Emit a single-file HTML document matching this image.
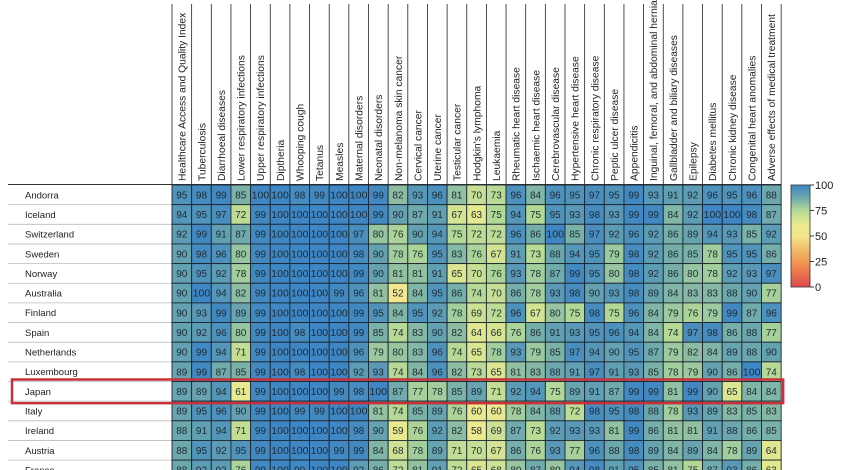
<!DOCTYPE html>
<html><head><meta charset="utf-8"><style>
html,body{margin:0;padding:0;background:#fff;width:844px;height:470px;overflow:hidden}
svg{display:block}
text{font-family:"Liberation Sans",sans-serif}
</style></head><body>
<svg id="s" width="844" height="470" xmlns="http://www.w3.org/2000/svg"></svg>
<script>
const cols=["Healthcare Access and Quality Index","Tuberculosis","Diarrhoeal diseases","Lower respiratory infections","Upper respiratory infections","Diptheria","Whooping cough","Tetanus","Measles","Maternal disorders","Neonatal disorders","Non-melanoma skin cancer","Cervical cancer","Uterine cancer","Testicular cancer","Hodgkin's lymphoma","Leukaemia","Rheumatic heart disease","Ischaemic heart disease","Cerebrovascular disease","Hypertensive heart disease","Chronic respiratory disease","Peptic ulcer disease","Appendicitis","Inguinal, femoral, and abdominal hernia","Gallbladder and biliary diseases","Epilepsy","Diabetes mellitus","Chronic kidney disease","Congenital heart anomalies","Adverse effects of medical treatment"];
const rows=[
["Andorra","95 98 99 85 100 100 98 99 100 100 99 82 93 96 81 70 73 96 84 96 95 97 95 99 93 91 92 96 95 96 88"],
["Iceland","94 95 97 72 99 100 100 100 100 100 99 90 87 91 67 63 75 94 75 95 93 98 93 99 99 84 92 100 100 98 87"],
["Switzerland","92 99 91 87 99 100 100 100 100 97 80 76 90 94 75 72 72 96 86 100 85 97 92 96 92 86 89 94 93 85 92"],
["Sweden","90 98 96 80 99 100 100 100 100 98 90 78 76 95 83 76 67 91 73 88 94 95 79 98 92 86 85 78 95 95 86"],
["Norway","90 95 92 78 99 100 100 100 100 99 90 81 81 91 65 70 76 93 78 87 99 95 80 98 92 86 80 78 92 93 97"],
["Australia","90 100 94 82 99 100 100 100 99 96 81 52 84 95 86 74 70 86 78 93 98 90 93 98 89 84 83 83 88 90 77"],
["Finland","90 93 99 89 99 100 100 100 100 99 95 84 95 92 78 69 72 96 67 80 75 98 75 96 84 79 76 79 99 87 96"],
["Spain","90 92 96 80 99 100 98 100 100 99 85 74 83 90 82 64 66 76 86 91 93 95 96 94 84 74 97 98 86 88 77"],
["Netherlands","90 99 94 71 99 100 100 100 100 96 79 80 83 96 74 65 78 93 79 85 97 94 90 95 87 79 82 84 89 88 90"],
["Luxembourg","89 99 87 85 99 100 98 100 100 92 93 74 84 96 82 73 65 81 83 88 91 97 91 93 85 78 79 90 86 100 74"],
["Japan","89 89 94 61 99 100 100 100 99 98 100 87 77 78 85 89 71 92 94 75 89 91 87 99 99 81 99 90 65 84 84"],
["Italy","89 95 96 90 99 100 99 99 100 100 81 74 85 89 76 60 60 78 84 88 72 98 95 98 88 78 93 89 83 85 83"],
["Ireland","88 91 94 71 99 100 100 100 100 98 90 59 76 92 82 58 69 87 73 92 93 93 81 99 86 81 81 91 88 86 85"],
["Austria","88 95 92 95 99 100 100 100 99 99 84 68 78 89 71 70 67 86 76 93 77 96 88 98 89 84 89 84 78 89 64"],
["France","88 92 92 76 99 100 99 100 100 92 86 72 81 91 72 65 68 80 87 80 94 98 91 95 85 81 75 87 93 86 63"]];
const stops=[[0,[224,72,76]],[25,[242,152,80]],[50,[244,230,140]],[62,[232,234,144]],[75,[178,216,150]],[87,[112,170,172]],[100,[62,134,196]]];
function col(v){for(let i=1;i<stops.length;i++){if(v<=stops[i][0]){const a=stops[i-1],b=stops[i],t=(v-a[0])/(b[0]-a[0]);return "rgb("+a[1].map((c,k)=>Math.round(c+(b[1][k]-c)*t)).join(",")+")";}}return "rgb(62,134,196)";}
const X0=172,W=19.65,Y0=185,H=19.65;let o="";
const X1=X0+W*31;
for(let j=0;j<=31;j++){o+=`<line x1="${X0+j*W}" y1="4" x2="${X0+j*W}" y2="185" stroke="#222" stroke-width="0.8"/>`;}
cols.forEach((c,j)=>{const x=X0+j*W+W/2+3.8;o+=`<text transform="translate(${x},181) rotate(-90)" font-size="10.3" fill="#222">${c.replace("'","&#39;")}</text>`;});
o+=`<line x1="8" y1="184.5" x2="${X1}" y2="184.5" stroke="#333" stroke-width="1"/>`;
rows.forEach((r,i)=>{const y=Y0+i*H;const vals=r[1].split(" ").map(Number);
o+=`<text x="25" y="${y+H/2+3.5}" font-size="9.5" fill="#222">${r[0]}</text>`;
o+=`<line x1="8" y1="${y+H}" x2="${X0}" y2="${y+H}" stroke="#bbb" stroke-width="0.8"/>`;
vals.forEach((v,j)=>{const x=X0+j*W;o+=`<rect x="${x}" y="${y}" width="${W}" height="${H}" fill="${col(v)}" stroke="#1c2630" stroke-width="0.9"/>`;
o+=`<text x="${x+W/2}" y="${y+H/2+3.6}" font-size="10" text-anchor="middle" fill="#1d2b33" ${v==100?'textLength="17.5" lengthAdjust="spacingAndGlyphs"':''}>${v}</text>`;});});
o+=`<rect x="12" y="${Y0+10*H-2}" width="${X1-10}" height="${H+4}" fill="none" stroke="#c8303a" stroke-width="2.5"/>`;
o+=`<defs><linearGradient id="g" x1="0" y1="1" x2="0" y2="0">`;
for(let v=0;v<=100;v+=5)o+=`<stop offset="${v/100}" stop-color="${col(v)}"/>`;
o+=`</linearGradient></defs><rect x="791" y="185" width="19" height="102" fill="url(#g)" stroke="#333" stroke-width="0.8"/>`;
[100,75,50,25,0].forEach((v,k)=>{const y=185+k*25.5;o+=`<line x1="810" y1="${y}" x2="814" y2="${y}" stroke="#333"/><text x="815" y="${y+4}" font-size="11" fill="#222">${v}</text>`;});
document.getElementById("s").innerHTML=o;
</script>
</body></html>
